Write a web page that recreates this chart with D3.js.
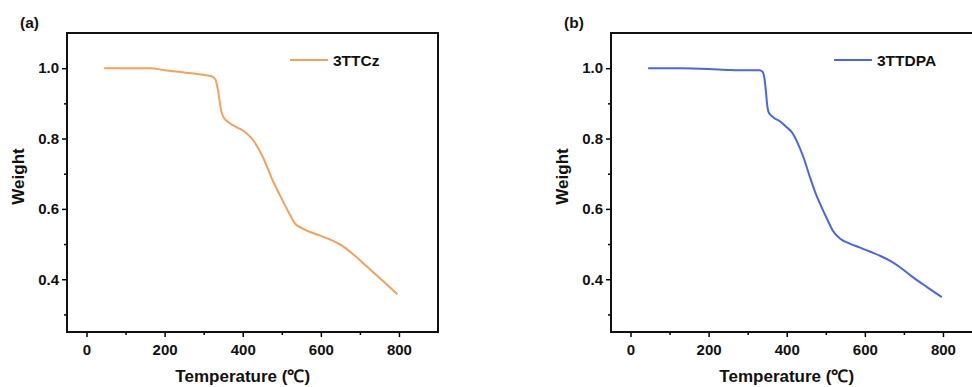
<!DOCTYPE html>
<html>
<head>
<meta charset="utf-8">
<script src="https://cdn.jsdelivr.net/npm/d3@7"></script>
<style>
  body { margin: 0; background: #fff; }
  text { font-family: "Liberation Sans", Arial, sans-serif; font-weight: bold; fill: #111; }
</style>
</head>
<body>
<div id="chart"></div>
<script>
// 3TTCz (panel a)
const tempA = [45, 100, 165, 200, 250, 300, 320, 330, 337, 343, 350, 365, 385, 410, 430, 452, 475, 500, 520, 535, 550, 598, 630, 655, 685, 718, 760, 796];
const weightA = [1.0, 1.0, 1.0, 0.994, 0.988, 0.981, 0.977, 0.968, 0.935, 0.89, 0.862, 0.845, 0.832, 0.815, 0.79, 0.746, 0.685, 0.628, 0.585, 0.557, 0.546, 0.524, 0.51, 0.495, 0.469, 0.436, 0.394, 0.357];

// 3TTDPA (panel b)
const tempB = [45, 130, 200, 255, 300, 330, 338, 343, 347, 350, 354, 366, 385, 400, 413, 428, 443, 458, 473, 490, 503, 518, 537, 560, 588, 614, 640, 665, 690, 720, 760, 797];
const weightB = [1.0, 1.0, 0.998, 0.995, 0.994, 0.994, 0.99, 0.97, 0.93, 0.895, 0.874, 0.86, 0.847, 0.832, 0.818, 0.787, 0.746, 0.695, 0.647, 0.603, 0.572, 0.538, 0.515, 0.502, 0.49, 0.478, 0.466, 0.452, 0.434, 0.408, 0.377, 0.349];

const xTicks = [0, 200, 400, 600, 800];
const xMinor = [100, 300, 500, 700];
const yTicks = [0.4, 0.6, 0.8, 1.0];
const yMinor = [0.3, 0.5, 0.7, 0.9];

const svg = d3.select("#chart").append("svg")
    .attr("width", 972)
    .attr("height", 387);

const w = 371, h = 299;

function drawPanel(left, temps, weights, color, name, tag) {
    const g = svg.append("g").attr("transform", `translate(${left},33)`);

    const x = d3.scaleLinear().domain([-50, 900]).range([0, w]);
    const y = d3.scaleLinear().domain([0.25, 1.1]).range([h, 0]);

    // minor ticks
    g.append("g")
        .attr("transform", `translate(0,${h})`)
        .call(d3.axisBottom(x).tickValues(xMinor).tickSize(3).tickFormat(""))
        .call(a => a.select(".domain").remove())
        .selectAll("line").attr("stroke-width", 1.5);
    g.append("g")
        .call(d3.axisLeft(y).tickValues(yMinor).tickSize(3).tickFormat(""))
        .call(a => a.select(".domain").remove())
        .selectAll("line").attr("stroke-width", 1.5);

    // major ticks
    const xa = g.append("g")
        .attr("transform", `translate(0,${h})`)
        .call(d3.axisBottom(x).tickValues(xTicks).tickSize(5).tickPadding(7).tickFormat(d3.format("d")));
    xa.select(".domain").remove();
    xa.selectAll("line").attr("stroke-width", 1.5);
    xa.selectAll("text").style("font-size", "15px");

    const ya = g.append("g")
        .call(d3.axisLeft(y).tickValues(yTicks).tickSize(5).tickPadding(3).tickFormat(d3.format(".1f")));
    ya.select(".domain").remove();
    ya.selectAll("line").attr("stroke-width", 1.5);
    ya.selectAll("text").style("font-size", "15px");

    // frame
    g.append("rect")
        .attr("width", w)
        .attr("height", h)
        .attr("fill", "none")
        .attr("stroke", "#111")
        .attr("stroke-width", 2);

    const line = d3.line()
        .x((d, i) => x(temps[i]))
        .y(d => y(d))
        .curve(d3.curveMonotoneX);

    g.append("path")
        .datum(weights)
        .attr("d", line)
        .attr("fill", "none")
        .attr("stroke", color)
        .attr("stroke-width", 2);

    // legend
    g.append("line")
        .attr("x1", 223).attr("x2", 261)
        .attr("y1", 27).attr("y2", 27)
        .attr("stroke", color)
        .attr("stroke-width", 2);
    g.append("text")
        .attr("x", 266).attr("y", 33)
        .style("font-size", "15.5px")
        .text(name);

    // titles
    g.append("text")
        .attr("x", x(400)).attr("y", 349)
        .attr("text-anchor", "middle")
        .style("font-size", "17px")
        .text("Temperature (℃)");

    g.append("text")
        .attr("transform", `translate(${-43},${h / 2 - 6}) rotate(-90)`)
        .attr("text-anchor", "middle")
        .style("font-size", "17px")
        .text("Weight");

    g.append("text")
        .attr("x", -47).attr("y", -5)
        .style("font-size", "15.5px")
        .text(tag);
}

drawPanel(67, tempA, weightA, "#F4A15E", "3TTCz", "(a)");
drawPanel(611, tempB, weightB, "#4A66E6", "3TTDPA", "(b)");
</script>
</body>
</html>
